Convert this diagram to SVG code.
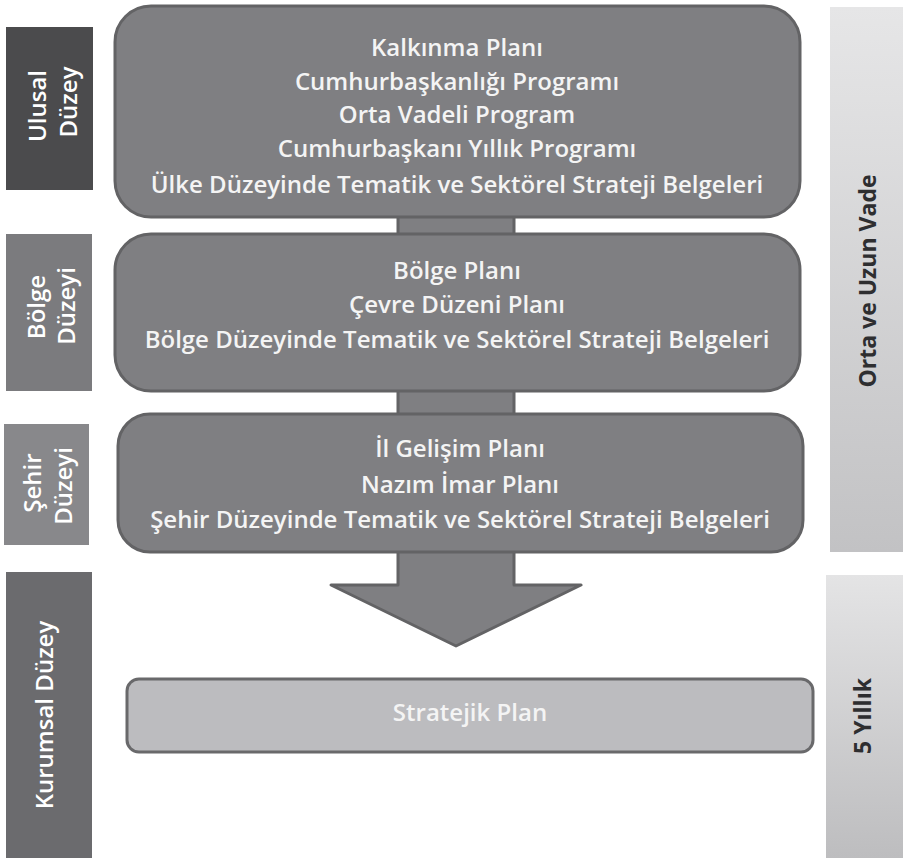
<svg xmlns="http://www.w3.org/2000/svg" width="903" height="861" viewBox="0 0 903 861">
<defs>
<linearGradient id="side" x1="0" y1="0" x2="0" y2="1">
<stop offset="0" stop-color="#e6e6e7"/>
<stop offset="1" stop-color="#c2c2c4"/>
</linearGradient>
<linearGradient id="side2" x1="0" y1="0" x2="0" y2="1">
<stop offset="0" stop-color="#e4e4e5"/>
<stop offset="1" stop-color="#bdbdbf"/>
</linearGradient>
<style>
.box{fill:#7f7f82;stroke:#636365;stroke-width:3}
.t{font-family:"Open Sans","Liberation Sans",sans-serif;font-weight:600;font-size:24px;fill:#f4f4f4;text-anchor:middle}
.lab{font-family:"Open Sans","Liberation Sans",sans-serif;font-weight:600;font-size:24px;fill:#ffffff;text-anchor:middle}
.side{font-family:"Open Sans","Liberation Sans",sans-serif;font-weight:700;font-size:23px;fill:#2e2e30;text-anchor:middle}
</style>
</defs>
<rect width="903" height="861" fill="#ffffff"/>

<g id="label-ulusal">
<rect x="6" y="27" width="87" height="163" fill="#4b4b4d"/>
<text class="lab" transform="translate(46,106) rotate(-90)">Ulusal</text>
<text class="lab" transform="translate(77,102) rotate(-90)">Düzey</text>
</g>
<g id="label-bolge">
<rect x="6" y="234" width="86" height="157" fill="#7b7b7e"/>
<text class="lab" transform="translate(45,307) rotate(-90)">Bölge</text>
<text class="lab" transform="translate(75,306) rotate(-90)">Düzeyi</text>
</g>
<g id="label-sehir">
<rect x="4" y="424" width="85" height="121" fill="#88888b"/>
<text class="lab" transform="translate(41,483) rotate(-90)">Şehir</text>
<text class="lab" transform="translate(72,486) rotate(-90)">Düzeyi</text>
</g>
<g id="label-kurumsal">
<rect x="6" y="572" width="86" height="286" fill="#6b6b6e"/>
<text class="lab" transform="translate(53,715) rotate(-90)">Kurumsal Düzey</text>
</g>

<g id="connectors">
<rect x="398" y="215" width="116" height="20" fill="#7f7f82" stroke="#636365" stroke-width="3"/>
<rect x="398" y="389" width="116" height="26" fill="#7f7f82" stroke="#636365" stroke-width="3"/>
<path d="M398,550 L398,585 L331,585 L456,646 L581,585 L514,585 L514,550 Z" fill="#7f7f82" stroke="#636365" stroke-width="3" stroke-linejoin="round"/>
</g>

<g id="box-ulusal">
<rect class="box" x="115" y="6" width="685" height="211" rx="36"/>
<text class="t" x="457" y="56">Kalkınma Planı</text>
<text class="t" x="457" y="90">Cumhurbaşkanlığı Programı</text>
<text class="t" x="457" y="123">Orta Vadeli Program</text>
<text class="t" x="457" y="157">Cumhurbaşkanı Yıllık Programı</text>
<text class="t" x="457" y="193">Ülke Düzeyinde Tematik ve Sektörel Strateji Belgeleri</text>
</g>
<g id="box-bolge">
<rect class="box" x="115" y="234" width="685" height="157" rx="36"/>
<text class="t" x="457" y="279">Bölge Planı</text>
<text class="t" x="457" y="313">Çevre Düzeni Planı</text>
<text class="t" x="457" y="348">Bölge Düzeyinde Tematik ve Sektörel Strateji Belgeleri</text>
</g>
<g id="box-sehir">
<rect class="box" x="118" y="414" width="685" height="138" rx="32"/>
<text class="t" x="460" y="457">İl Gelişim Planı</text>
<text class="t" x="460" y="493">Nazım İmar Planı</text>
<text class="t" x="460" y="528">Şehir Düzeyinde Tematik ve Sektörel Strateji Belgeleri</text>
</g>
<g id="box-stratejik">
<rect x="127" y="679" width="686" height="73" rx="12" fill="#bcbcbf" stroke="#69696b" stroke-width="3"/>
<text class="t" x="470" y="721" fill="#f2f2f2">Stratejik Plan</text>
</g>

<g id="side-orta">
<rect x="830" y="7" width="73" height="545" fill="url(#side)"/>
<text class="side" transform="translate(876,281) rotate(-90)">Orta ve Uzun Vade</text>
</g>
<g id="side-5">
<rect x="826" y="575" width="77" height="283" fill="url(#side2)"/>
<text class="side" transform="translate(871,716) rotate(-90)">5 Yıllık</text>
</g>
</svg>
